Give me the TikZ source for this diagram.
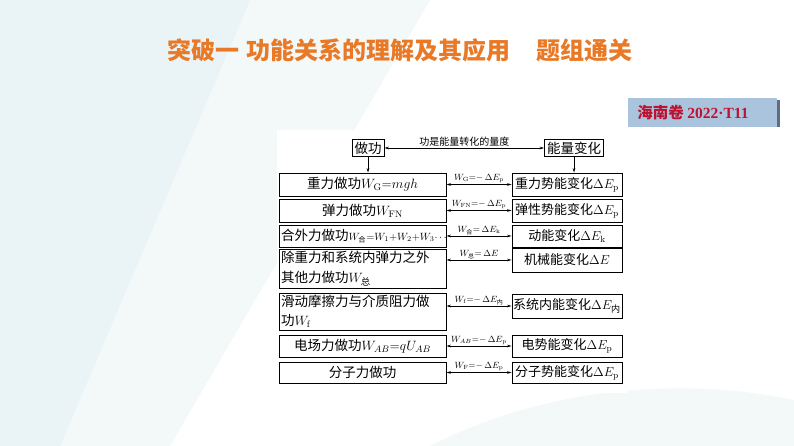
\RequirePackage{fix-cm}
\documentclass[tikz,border=0pt]{standalone}
\usepackage{amsmath}
\usepackage[no-math]{fontspec}
\setmainfont{Noto Sans CJK SC}
\newfontfamily\numfont{Liberation Serif}
\usetikzlibrary{arrows.meta}

\definecolor{titleorange}{RGB}{232,121,38}
\definecolor{badgeblue}{RGB}{170,196,222}
\definecolor{badgeshade}{RGB}{95,110,128}
\definecolor{badgered}{RGB}{190,18,48}
\definecolor{paleteal}{RGB}{234,243,246}
\definecolor{paleteal2}{RGB}{243,248,249}

\tikzset{
  box/.style={draw, line width=0.8pt, inner sep=2pt},
  lbox/.style={box, text width=163pt, font=\fontsize{13.5}{19.5}\selectfont},
  rbox/.style={box, text width=108pt, inner sep=1pt, align=center, font=\fontsize{13}{16}\selectfont},
  topbox/.style={box, inner sep=2.5pt, font=\fontsize{13.5}{16}\selectfont},
  link/.style={{Stealth[length=4.5pt,width=2.6pt]}-{Stealth[length=4.5pt,width=2.6pt]}, line width=0.7pt},
  down/.style={-{Stealth[length=4.5pt,width=2.6pt]}, line width=0.7pt},
  tag/.style={above, inner sep=1pt, font=\fontsize{9}{9}\selectfont},
}

\begin{document}
\begin{tikzpicture}[x=1pt, y=-1pt]
    \useasboundingbox (0,0) rectangle (794,446);

    % Background
    \fill[white] (0,0) rectangle (794,446);
    \fill[paleteal2] (0,0) -- (430,0) -- (170,446) -- (0,446) -- cycle;
    \fill[paleteal] (0,0) -- (250,0) -- (60,446) -- (0,446) -- cycle;
    \fill[paleteal2] (430,446) .. controls (560,380) and (700,380) .. (794,400) -- (794,446) -- cycle;
    \fill[white] (277,130) rectangle (627,393);

    % Title
    \node[font=\fontsize{24}{24}\selectfont\bfseries, text=titleorange] (title) at (400,50)
        {突破一\hspace{0.3em}功能关系的理解及其应用\hspace{1.1em}题组通关};

    % Badge
    \node[fill=badgeblue, minimum width=149pt, minimum height=29pt, inner sep=0pt] (badge) at (702.5,112.5) {};
    \fill[badgeshade] ([yshift=-2pt]badge.north east) rectangle ([xshift=3pt]badge.south east);
    \node[text=badgered, font=\fontsize{15.5}{16}\selectfont] (badgetext) at (693,112.5)
        {\bfseries 海南卷 {\numfont\bfseries 2022·T11}};

    % Top row
    \node[topbox] (zuogong) at (368,148) {做功};
    \node[topbox] (nengliang) at (574,148) {能量变化};

    % Left column: work done
    \node[lbox, align=center, minimum height=23pt] (l1) at (362.5,184.5) {重力做功$W_{\rm G}{=}mgh$};
    \node[lbox, align=center, minimum height=23pt] (l2) at (362.5,210.5) {弹力做功$W_{\rm FN}$};
    \node[lbox, align=left, minimum height=22pt] (l3) at (362.5,236)
        {合外力做功{\fontsize{10.5}{13}\selectfont$W_{\text{合}}{=}W_1{+}W_2{+}W_3\!\cdots$}};
    \node[lbox, align=left, minimum height=39pt] (l4) at (362.5,268.5) {除重力和系统内弹力之外\\其他力做功$W_{\text{总}}$};
    \node[lbox, align=left, minimum height=37pt] (l5) at (362.5,311.5) {滑动摩擦力与介质阻力做\\功$W_{\rm f}$};
    \node[lbox, align=center, minimum height=22pt] (l6) at (362.5,346) {电场力做功$W_{AB}{=}qU_{AB}$};
    \node[lbox, align=center, minimum height=21pt] (l7) at (362.5,372.5) {分子力做功};

    % Right column: energy change
    \node[rbox, minimum height=23pt] (r1) at (567,184.5) {重力势能变化$\Delta E_{\rm p}$};
    \node[rbox, minimum height=23pt] (r2) at (567,210.5) {弹性势能变化$\Delta E_{\rm p}$};
    \node[rbox, minimum height=22pt] (r3) at (567,236) {动能变化$\Delta E_{\rm k}$};
    \node[rbox, minimum height=24pt] (r4) at (567,260) {机械能变化$\Delta E$};
    \node[rbox, minimum height=24pt] (r5) at (567,306) {系统内能变化$\Delta E_{\text{内}}$};
    \node[rbox, minimum height=22pt] (r6) at (567,346) {电势能变化$\Delta E_{\rm p}$};
    \node[rbox, minimum height=21pt] (r7) at (567,372.5) {分子势能变化$\Delta E_{\rm p}$};

    % Connectors
    \draw[link] (zuogong) -- (nengliang) node[midway, tag, font=\fontsize{10}{10}\selectfont] {功是能量转化的量度};
    \draw[down] (zuogong) -- (zuogong |- l1.north);
    \draw[down] (nengliang) -- (nengliang |- r1.north);
    \draw[link] (l1.east |- r1.west) -- (r1.west) node[midway, tag] {$W_{\rm G}{=}{-}\,\Delta E_{\rm p}$};
    \draw[link] (l2.east |- r2.west) -- (r2.west) node[midway, tag] {$W_{\rm FN}{=}{-}\,\Delta E_{\rm p}$};
    \draw[link] (l3.east |- r3.west) -- (r3.west) node[midway, tag] {$W_{\text{合}}{=}\,\Delta E_{\rm k}$};
    \draw[link] (l4.east |- r4.west) -- (r4.west) node[midway, tag] {$W_{\text{总}}{=}\,\Delta E$};
    \draw[link] (l5.east |- r5.west) -- (r5.west) node[midway, tag] {$W_{\rm f}{=}{-}\,\Delta E_{\text{内}}$};
    \draw[link] (l6.east |- r6.west) -- (r6.west) node[midway, tag] {$W_{AB}{=}{-}\,\Delta E_{\rm p}$};
    \draw[link] (l7.east |- r7.west) -- (r7.west) node[midway, tag] {$W_{\rm F}{=}{-}\,\Delta E_{\rm p}$};
\end{tikzpicture}
\end{document}
